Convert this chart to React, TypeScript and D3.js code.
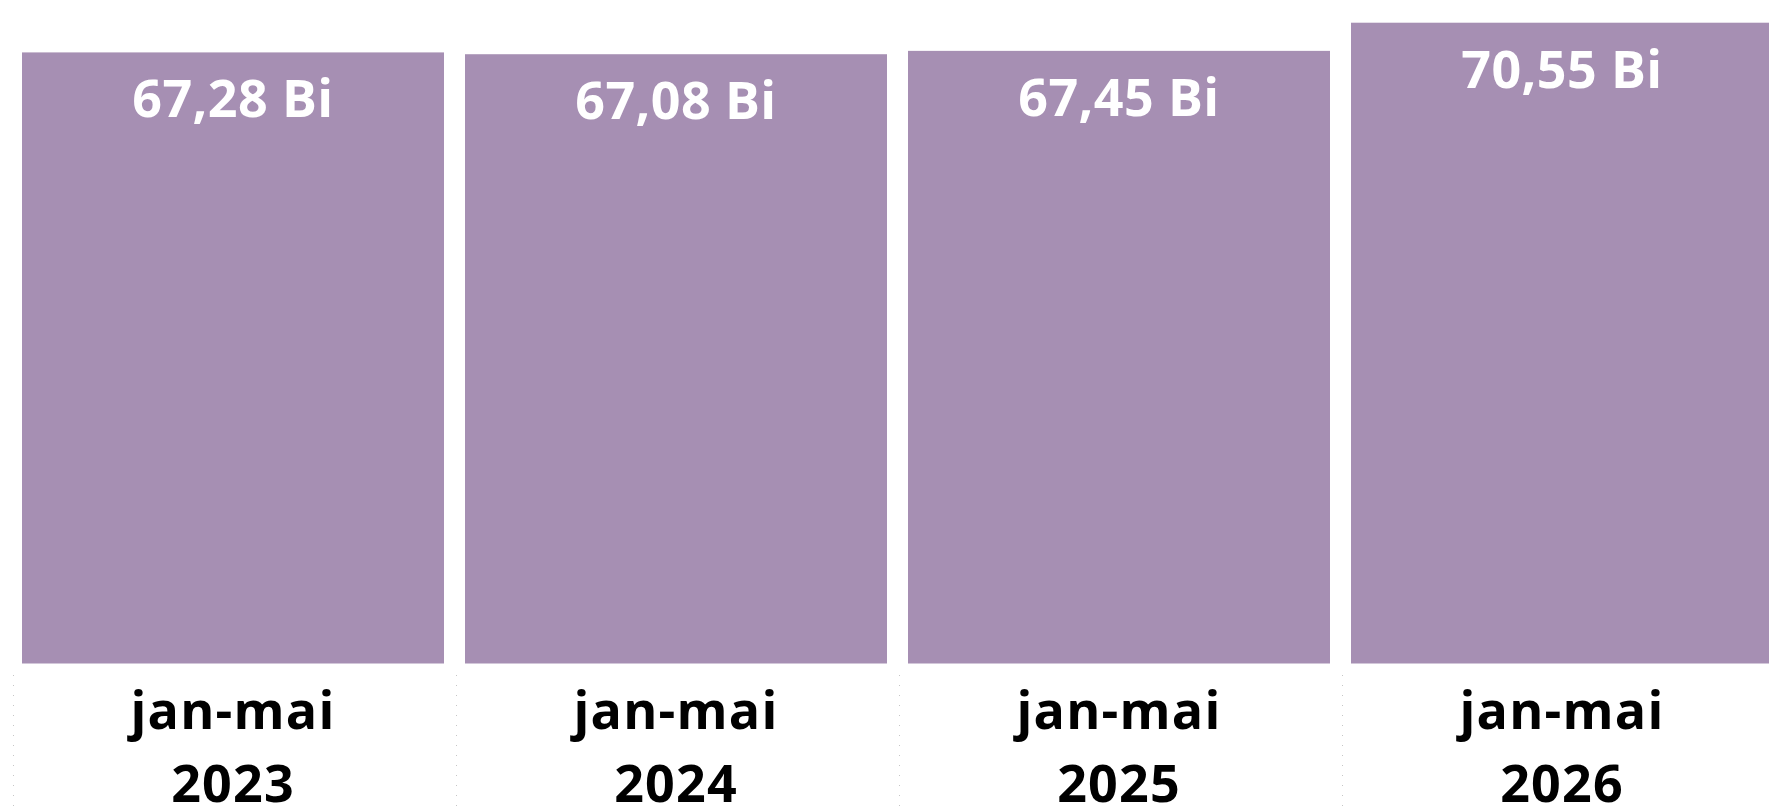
import React from "react";
import * as d3 from "d3";

const categories = ["jan-mai 2023", "jan-mai 2024", "jan-mai 2025", "jan-mai 2026"];
const categoryLines = [["jan-mai", "2023"], ["jan-mai", "2024"], ["jan-mai", "2025"], ["jan-mai", "2026"]];
const values = [67.28, 67.08, 67.45, 70.55];
const valueLabels = ["67,28 Bi", "67,08 Bi", "67,45 Bi", "70,55 Bi"];

const W = 1769;
const H = 810;
const BAR_COLOR = "#A68FB3";
const FONT = "'Open Sans', 'Noto Sans', sans-serif";

export default function App() {
  const x = d3
    .scaleBand<string>()
    .domain(categories)
    .range([11.5, 11.5 + 4 * 443])
    .paddingInner(21 / 443)
    .paddingOuter(0.5 * (21 / 443));
  const y = d3.scaleLinear().domain([0, 73.05]).range([663.5, 0]);
  const bw = x.bandwidth();

  return (
    <svg
      width={W}
      height={H}
      style={{ position: "absolute", left: 0, top: 0, display: "block" }}
    >
      <rect x={0} y={0} width={W} height={H} fill="#ffffff" />
      {categories.map((c, i) => {
        const bx = x(c)!;
        const lineX = Math.round(bx - 9) + 0.5;
        return (
          <line
            key={"g" + i}
            x1={lineX}
            x2={lineX}
            y1={675}
            y2={H}
            stroke="#c6c6c6"
            strokeWidth={1}
            strokeDasharray="1 9"
          />
        );
      })}
      {categories.map((c, i) => (
        <rect
          key={"b" + i}
          x={x(c)!}
          y={y(values[i])}
          width={bw}
          height={y(0) - y(values[i])}
          fill={BAR_COLOR}
        />
      ))}
      {categories.map((c, i) => (
        <text
          key={"v" + i}
          x={x(c)! + bw / 2}
          y={y(values[i]) + 65}
          textAnchor="middle"
          fill="#ffffff"
          fontFamily={FONT}
          fontWeight={700}
          fontSize={52}
          letterSpacing={0.4}
        >
          {valueLabels[i]}
        </text>
      ))}
      {categories.map((c, i) => (
        <text
          key={"c" + i}
          x={x(c)! + bw / 2}
          textAnchor="middle"
          fill="#000000"
          fontFamily={FONT}
          fontWeight={700}
          fontSize={52}
          letterSpacing={1.2}
        >
          <tspan x={x(c)! + bw / 2} y={729}>
            {categoryLines[i][0]}
          </tspan>
          <tspan x={x(c)! + bw / 2} y={802}>
            {categoryLines[i][1]}
          </tspan>
        </text>
      ))}
    </svg>
  );
}
